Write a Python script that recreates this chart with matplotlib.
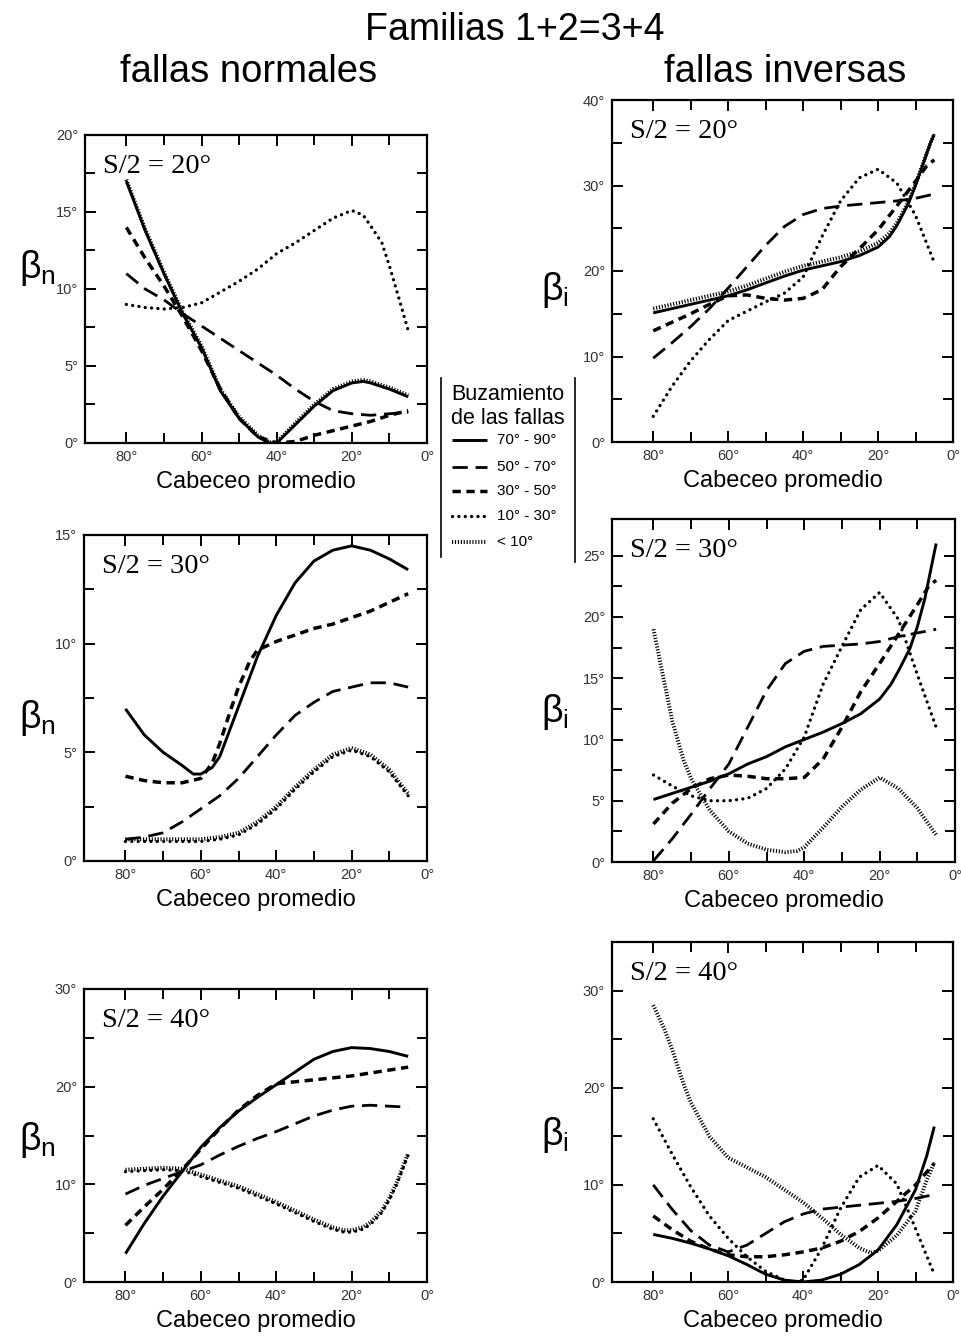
import matplotlib
matplotlib.use("Agg")
import matplotlib.pyplot as plt

plt.rcParams['font.family'] = ['Liberation Sans', 'DejaVu Sans']
plt.rcParams['mathtext.fontset'] = 'custom'
plt.rcParams['mathtext.rm'] = 'Liberation Sans'
plt.rcParams['mathtext.it'] = 'Liberation Sans:italic'

# ---------------- data ----------------
X16 = [80, 75, 70, 65, 60, 55, 50, 45, 40, 35, 30, 25, 20, 15, 10, 5]

# normal faults, S/2 = 20
n20_solid_x = [80, 75, 70, 65, 60, 55, 50, 45, 42, 40, 35, 30, 25, 20, 17, 15, 10, 5]
n20_solid_y = [17, 13.8, 11, 8.4, 6.2, 3.4, 1.6, 0.4, 0, 0, 1.2, 2.4, 3.4, 3.9, 4.0, 3.9, 3.5, 3.0]
n20_lt10_y = [17.1, 13.9, 11.1, 8.5, 6.3, 3.5, 1.7, 0.5, 0.05, 0.05, 1.3, 2.5, 3.5, 4.0, 4.1, 4.0, 3.6, 3.1]
n20_ldash_y = [11, 10, 9.3, 8.4, 7.6, 6.8, 6.0, 5.2, 4.4, 3.5, 2.7, 2.1, 1.9, 1.8, 1.9, 2.0]
n20_mdash_y = [14, 12, 10.2, 8.2, 6.0, 3.5, 1.6, 0.4, 0, 0.1, 0.5, 0.8, 1.1, 1.4, 1.8, 2.1]
n20_dot_x = [80, 75, 70, 65, 60, 55, 50, 45, 40, 35, 30, 25, 20, 17, 15, 12, 10, 7, 5]
n20_dot_y = [9.0, 8.8, 8.7, 8.8, 9.1, 9.8, 10.5, 11.3, 12.3, 13.0, 13.8, 14.6, 15.1, 14.8, 14.1, 13.0, 11.5, 9.0, 7.3]

# reverse faults, S/2 = 20
i20_solid_x = [80, 75, 70, 65, 60, 55, 50, 45, 40, 35, 30, 25, 20, 17, 15, 12, 10, 8, 6, 5]
i20_solid_y = [15.1, 15.6, 16.1, 16.6, 17.1, 17.8, 18.6, 19.4, 20.1, 20.6, 21.1, 21.8, 22.8, 24.0, 25.3, 27.8, 30.0, 32.5, 35.0, 36.0]
i20_lt10_y = [15.6, 16.1, 16.6, 17.1, 17.6, 18.3, 19.1, 19.9, 20.6, 21.1, 21.6, 22.3, 23.3, 24.4, 25.6, 28.0, 30.2, 32.6, 35.0, 36.0]
i20_ldash_y = [9.8, 11.6, 13.5, 15.6, 18, 20.5, 23, 25.2, 26.6, 27.3, 27.6, 27.8, 28, 28.2, 28.5, 29]
i20_mdash_x = [80, 75, 70, 65, 60, 55, 50, 45, 40, 35, 30, 25, 20, 15, 10, 7, 5]
i20_mdash_y = [13, 14, 15, 16.1, 17.1, 17.2, 16.8, 16.6, 16.8, 17.8, 20.5, 22.6, 24.8, 27.6, 30.5, 32.3, 33]
i20_dot_y = [3, 6.5, 9.5, 12, 14.2, 15.3, 16.4, 17.4, 19.3, 24.0, 28.2, 30.9, 31.9, 30.3, 26.5, 21]

# normal faults, S/2 = 30
n30_solid_x = [80, 75, 70, 65, 62, 60, 57, 55, 50, 45, 40, 35, 30, 25, 20, 15, 10, 5]
n30_solid_y = [7.0, 5.8, 5.0, 4.4, 4.0, 4.0, 4.3, 4.8, 7.1, 9.4, 11.3, 12.8, 13.8, 14.3, 14.5, 14.3, 13.9, 13.4]
n30_mdash_x = [80, 75, 70, 65, 60, 57, 55, 52, 50, 47, 45, 40, 35, 30, 25, 20, 15, 10, 5]
n30_mdash_y = [3.9, 3.7, 3.6, 3.6, 3.8, 4.5, 5.4, 7.0, 8.0, 9.2, 9.7, 10.1, 10.4, 10.7, 10.9, 11.2, 11.5, 11.9, 12.3]
n30_ldash_y = [1.0, 1.1, 1.3, 1.8, 2.4, 3.0, 3.8, 4.8, 5.8, 6.7, 7.3, 7.8, 8.0, 8.2, 8.2, 8.0]
n30_dot_y = [0.9, 0.9, 0.9, 0.9, 0.9, 1.0, 1.2, 1.7, 2.4, 3.3, 4.1, 4.8, 5.1, 4.8, 4.1, 3.0]
n30_lt10_y = [1.0, 1.0, 1.0, 1.0, 1.0, 1.1, 1.3, 1.8, 2.5, 3.4, 4.2, 4.9, 5.2, 4.9, 4.2, 3.1]

# reverse faults, S/2 = 30
i30_solid_x = [80, 75, 70, 65, 60, 55, 50, 45, 40, 35, 30, 25, 20, 17, 15, 12, 10, 8, 6, 5]
i30_solid_y = [5.1, 5.6, 6.1, 6.6, 7.2, 8.0, 8.6, 9.4, 10.0, 10.6, 11.3, 12.1, 13.3, 14.5, 15.6, 17.4, 19.2, 21.5, 24.5, 26.0]
i30_ldash_y = [0.1, 1.9, 3.9, 6.0, 8.0, 11, 14, 16.2, 17.2, 17.6, 17.7, 17.8, 18.0, 18.4, 18.7, 19]
i30_mdash_x = [80, 75, 70, 65, 60, 55, 50, 45, 40, 35, 30, 25, 20, 15, 10, 7, 5]
i30_mdash_y = [3.1, 4.8, 6.0, 6.8, 7.1, 7.0, 6.8, 6.8, 6.9, 8.4, 11, 13.9, 16.2, 18.6, 21.0, 22.5, 23]
i30_dot_y = [7.1, 6.2, 5.4, 5.0, 5.0, 5.2, 6.0, 7.6, 10.2, 14.5, 17.6, 20.6, 22, 19.8, 15.3, 11]
i30_lt10_x = [80, 77, 75, 72, 70, 65, 60, 55, 50, 45, 42, 40, 35, 30, 25, 20, 15, 10, 5]
i30_lt10_y = [19, 14.5, 11.5, 8.3, 6.8, 4.2, 2.5, 1.5, 1.0, 0.8, 0.9, 1.2, 2.8, 4.5, 5.9, 6.9, 6.0, 4.4, 2.2]

# normal faults, S/2 = 40
n40_solid_y = [2.9, 6.0, 8.8, 11.3, 13.8, 15.8, 17.5, 18.9, 20.2, 21.5, 22.8, 23.6, 24.0, 23.9, 23.6, 23.1]
n40_mdash_y = [5.8, 7.7, 9.5, 11.5, 13.6, 15.7, 17.6, 19.1, 20.3, 20.5, 20.7, 20.9, 21.1, 21.4, 21.7, 22.0]
n40_ldash_y = [9, 9.9, 10.6, 11.3, 12.0, 13.0, 13.9, 14.7, 15.4, 16.2, 17.0, 17.6, 18.0, 18.1, 18.0, 17.9]
n40_lt10_x = [80, 75, 70, 65, 60, 55, 50, 45, 40, 35, 30, 25, 22, 20, 17, 15, 12, 10, 8, 5]
n40_lt10_y = [11.5, 11.6, 11.7, 11.6, 11.0, 10.4, 9.8, 9.0, 8.2, 7.3, 6.4, 5.6, 5.3, 5.3, 5.6, 6.1, 7.3, 8.6, 10.2, 13.2]
n40_dot_y = [11.3, 11.4, 11.5, 11.4, 10.8, 10.2, 9.6, 8.8, 8.0, 7.1, 6.2, 5.4, 5.1, 5.1, 5.4, 5.9, 7.1, 8.4, 10.0, 13.0]

# reverse faults, S/2 = 40
i40_solid_x = [80, 75, 70, 65, 60, 55, 50, 45, 40, 35, 30, 25, 20, 15, 10, 7, 5]
i40_solid_y = [4.9, 4.5, 4.0, 3.4, 2.7, 1.8, 0.8, 0.2, 0, 0.2, 0.8, 1.8, 3.3, 5.9, 9.5, 13, 16]
i40_ldash_y = [10, 7.5, 5.3, 3.8, 3.1, 3.8, 5.0, 6.2, 7.0, 7.5, 7.7, 7.9, 8.1, 8.3, 8.6, 9]
i40_mdash_y = [6.8, 5.4, 4.2, 3.4, 2.8, 2.6, 2.6, 2.8, 3.1, 3.5, 4.2, 5.2, 6.6, 8.3, 10.0, 12.2]
i40_dot_x = [80, 75, 70, 65, 60, 55, 50, 45, 42, 40, 35, 30, 25, 20, 15, 10, 5]
i40_dot_y = [16.8, 13.2, 9.8, 6.8, 4.5, 2.6, 1.1, 0.2, 0, 0.2, 3.5, 7.6, 10.8, 12.0, 10.1, 5.5, 0.8]
i40_lt10_x = [80, 77, 75, 72, 70, 65, 60, 55, 50, 45, 40, 35, 30, 25, 22, 20, 15, 10, 7, 5]
i40_lt10_y = [28.5, 26, 24, 20.5, 18.5, 15, 12.8, 11.8, 10.8, 9.5, 8.2, 6.6, 4.9, 3.5, 3.0, 3.2, 4.8, 7.3, 10.5, 12.3]

legend_labels = ["70° - 90°", "50° - 70°", "30° - 50°", "10° - 30°", "< 10°"]
x_major = [80, 60, 40, 20, 0]
x_minor = [70, 50, 30, 10]

# ---------------- styles ----------------
STY = {
    'solid': dict(ls='-', lw=2.1, solid_capstyle='butt'),
    'ldash': dict(ls=(0, (5.5, 2.8)), lw=2.0, dash_capstyle='butt'),
    'mdash': dict(ls=(0, (2.4, 1.6)), lw=2.5, dash_capstyle='butt'),
    'dot': dict(ls=(0, (0.01, 1.9)), lw=2.4, dash_capstyle='round'),
    'lt10': dict(ls=(0, (0.3, 0.45)), lw=2.8, dash_capstyle='butt'),
}
ORDER = ['solid', 'ldash', 'mdash', 'dot', 'lt10']

W, H = 962, 1342
fig = plt.figure(figsize=(W / 100, H / 100), dpi=100)


def px_axes(l, t, r, b):
    return fig.add_axes([l / W, 1 - b / H, (r - l) / W, (b - t) / H])


def setup(ax, ymax, ymajor, yminor, label):
    ax.set_xlim(91, 0)
    ax.set_ylim(0, ymax)
    ax.set_xticks(x_major)
    ax.set_xticks(x_minor, minor=True)
    ax.set_xticklabels([f"{v}°" for v in x_major])
    ax.set_yticks(ymajor)
    ax.set_yticks(yminor, minor=True)
    ax.set_yticklabels([f"{v}°" for v in ymajor])
    ax.tick_params(which='both', direction='in', top=True, right=True,
                   width=1.4, labelsize=10.5, labelcolor='#333333', pad=5)
    ax.tick_params(which='major', length=8)
    ax.tick_params(which='minor', length=7)
    for s in ax.spines.values():
        s.set_linewidth(1.6)
    ax.annotate(label, xy=(0, 1), xycoords='axes fraction',
                xytext=(18, -38), textcoords='offset pixels',
                family='Liberation Serif', fontsize=20.5, va='baseline', ha='left')


def draw(ax, series):
    for key, xs, ys in series:
        ax.plot(xs, ys, color='black', **STY[key])


# top-left
ax = px_axes(85, 135, 427, 443)
setup(ax, 20, [0, 5, 10, 15, 20], [2.5, 7.5, 12.5, 17.5], "S/2 = 20°")
draw(ax, [('lt10', n20_solid_x, n20_lt10_y), ('solid', n20_solid_x, n20_solid_y),
          ('ldash', X16, n20_ldash_y), ('mdash', X16, n20_mdash_y),
          ('dot', n20_dot_x, n20_dot_y)])
ax.set_xlabel("Cabeceo promedio", fontsize=17, labelpad=5)

# top-right
ax = px_axes(612, 100, 953, 442)
setup(ax, 40, [0, 10, 20, 30, 40], [5, 15, 25, 35], "S/2 = 20°")
draw(ax, [('lt10', i20_solid_x, i20_lt10_y), ('solid', i20_solid_x, i20_solid_y),
          ('ldash', X16, i20_ldash_y), ('mdash', i20_mdash_x, i20_mdash_y),
          ('dot', X16, i20_dot_y)])
ax.set_xlabel("Cabeceo promedio", fontsize=17, labelpad=5)

# middle-left
ax = px_axes(84, 535, 427, 861)
setup(ax, 15, [0, 5, 10, 15], [2.5, 7.5, 12.5], "S/2 = 30°")
draw(ax, [('lt10', X16, n30_lt10_y), ('dot', X16, n30_dot_y),
          ('solid', n30_solid_x, n30_solid_y), ('ldash', X16, n30_ldash_y),
          ('mdash', n30_mdash_x, n30_mdash_y)])
ax.set_xlabel("Cabeceo promedio", fontsize=17, labelpad=5)

# middle-right
ax = px_axes(612, 519, 955, 862)
setup(ax, 28, [0, 5, 10, 15, 20, 25], [2.5, 7.5, 12.5, 17.5, 22.5], "S/2 = 30°")
draw(ax, [('lt10', i30_lt10_x, i30_lt10_y), ('solid', i30_solid_x, i30_solid_y),
          ('ldash', X16, i30_ldash_y), ('mdash', i30_mdash_x, i30_mdash_y),
          ('dot', X16, i30_dot_y)])
ax.set_xlabel("Cabeceo promedio", fontsize=17, labelpad=5)

# bottom-left
ax = px_axes(84, 989, 427, 1282)
setup(ax, 30, [0, 10, 20, 30], [5, 15, 25], "S/2 = 40°")
draw(ax, [('lt10', n40_lt10_x, n40_lt10_y), ('dot', n40_lt10_x, n40_dot_y),
          ('solid', X16, n40_solid_y), ('ldash', X16, n40_ldash_y),
          ('mdash', X16, n40_mdash_y)])
ax.set_xlabel("Cabeceo promedio", fontsize=17, labelpad=5)

# bottom-right
ax = px_axes(612, 942, 953, 1282)
setup(ax, 35, [0, 10, 20, 30], [5, 15, 25], "S/2 = 40°")
draw(ax, [('lt10', i40_lt10_x, i40_lt10_y), ('solid', i40_solid_x, i40_solid_y),
          ('ldash', X16, i40_ldash_y), ('mdash', X16, i40_mdash_y),
          ('dot', i40_dot_x, i40_dot_y)])
ax.set_xlabel("Cabeceo promedio", fontsize=17, labelpad=5)


def ftext(x, y, s, **kw):
    fig.text(x / W, 1 - y / H, s, **kw)


# titles
ftext(515, 30, "Familias 1+2=3+4", fontsize=27, ha='center', va='center')
ftext(249, 72, "fallas normales", fontsize=27.5, ha='center', va='center')
ftext(785, 72, "fallas inversas", fontsize=27.5, ha='center', va='center')

# y labels
for (x, y, sub) in [(37, 268, 'n'), (37, 718, 'n'), (37, 1140, 'n'),
                    (555, 290, 'i'), (555, 712, 'i'), (555, 1135, 'i')]:
    ftext(x, y, r"$\mathrm{\beta}_{\mathrm{%s}}$" % sub, fontsize=27, ha='center', va='center')

# legend
lg = fig.add_axes([436 / W, 1 - 565 / H, (580 - 436) / W, (565 - 372) / H])
lg.set_xlim(436, 580)
lg.set_ylim(565, 372)
lg.axis('off')
lg.plot([441, 441], [378, 557], color='black', lw=1.2)
lg.plot([575, 575], [378, 562], color='black', lw=1.2)
lg.text(508, 394, "Buzamiento", fontsize=15.5, ha='center', va='center')
lg.text(508, 418, "de las fallas", fontsize=15.5, ha='center', va='center')
row_y = [440, 467, 491, 516, 542]
for key, lab, yy in zip(ORDER, legend_labels, row_y):
    lg.plot([452, 487], [yy, yy], color='black', **STY[key])
    lg.text(497, yy, lab, fontsize=11, ha='left', va='center')

fig.savefig("out.png", dpi=100, facecolor='white')
